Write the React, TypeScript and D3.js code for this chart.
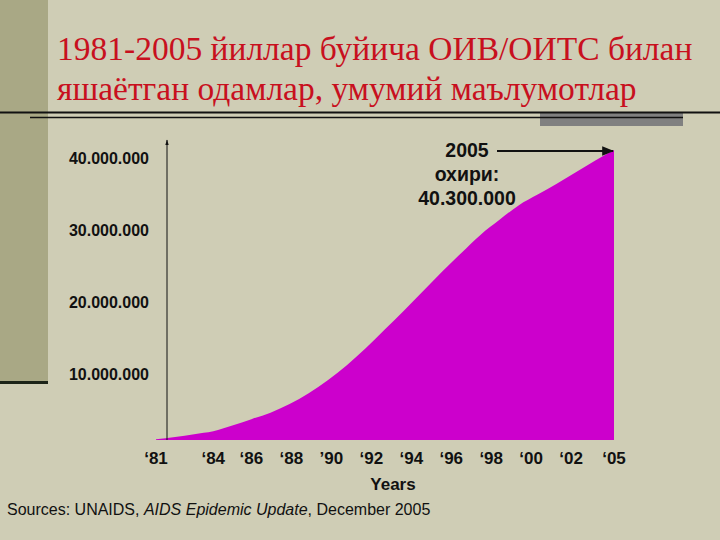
import React from 'react';
import * as d3 from 'd3';

// people living with HIV, millions
const years = [1981, 1982, 1983, 1984, 1985, 1986, 1987, 1988, 1989, 1990, 1991, 1992, 1993,
  1994, 1995, 1996, 1997, 1998, 1999, 2000, 2001, 2002, 2003, 2004, 2005];
const livingWithHiv = [0.1, 0.4, 0.8, 1.2, 2.0, 2.9, 3.8, 5.0, 6.5, 8.3, 10.4, 12.8, 15.4,
  18.0, 20.7, 23.4, 26.0, 28.5, 30.6, 32.6, 34.1, 35.6, 37.2, 38.8, 40.3];

const yTicks = [10, 20, 30, 40];
const yTickLabels = ['10.000.000', '20.000.000', '30.000.000', '40.000.000'];
const xTicks = [1981, 1984, 1986, 1988, 1990, 1992, 1994, 1996, 1998, 2000, 2002, 2005];
const xTickLabels = ['‘81', '‘84', '‘86', '‘88', '’90', '‘92', '‘94', '‘96', '‘98', '‘00', '‘02', '‘05'];

const titleLines = ['1981-2005 йиллар буйича ОИВ/ОИТС билан', 'яшаётган одамлар, умумий маълумотлар'];

export default function App() {
  const W = 720, H = 540;
  const x = d3.scaleLinear().domain([1981, 2005]).range([156, 614]);
  const y = d3.scaleLinear().domain([0, 40.3]).range([440, 150]);

  const data = years.map((yr, i) => ({yr, v: livingWithHiv[i]}));
  const area = d3.area<{yr: number, v: number}>()
    .x(d => x(d.yr))
    .y0(y(0))
    .y1(d => y(d.v))
    .curve(d3.curveMonotoneX);

  const bold = {fontFamily: 'Liberation Sans, Arial, sans-serif', fontWeight: 'bold' as const};
  const last = data[data.length - 1];

  return (
    <div style={{position: 'fixed', left: 0, top: 0}}>
      <svg width={W} height={H} viewBox={`0 0 ${W} ${H}`} style={{display: 'block'}}>
        <defs>
          <marker id="arr" viewBox="0 0 10 10" refX="9" refY="5" markerWidth="6" markerHeight="6" orient="auto">
            <path d="M0,1 L10,5 L0,9 z" fill="#111"/>
          </marker>
          <marker id="arrSmall" viewBox="0 0 10 10" refX="9" refY="5" markerWidth="6" markerHeight="6" orient="auto">
            <path d="M0,2 L10,5 L0,8 z" fill="#111"/>
          </marker>
        </defs>
        <rect width={W} height={H} fill="#cfcdb5"/>
        {/* left strip */}
        <rect x={0} y={0} width={48} height={382} fill="#a9a885"/>
        <rect x={0} y={381} width={48} height={3} fill="#1c2418"/>

        {/* title */}
        {titleLines.map((t, i) => (
          <text key={i} x={57} y={60 + i * 40} fill="#c8101e"
                style={{fontFamily: 'Liberation Serif, Times New Roman, serif', fontSize: 33.5}}>{t}</text>
        ))}
        <rect x={540} y={112} width={143} height={14} fill="#808080"/>
        <line x1={0} x2={W} y1={112.5} y2={112.5} stroke="#111" strokeWidth={2}/>
        <line x1={30} x2={683} y1={117.5} y2={117.5} stroke="#111" strokeWidth={1.5}/>

        {/* area */}
        <path d={area(data) || ''} fill="#cc00cc"/>

        {/* y axis */}
        <line x1={167} x2={167} y1={y(0)} y2={140} stroke="#111" strokeWidth={1} markerEnd="url(#arrSmall)"/>
        {yTicks.map((t, i) => (
          <text key={t} x={149} y={y(t) + 8} textAnchor="end" dominantBaseline="middle"
                style={{...bold, fontSize: 16}} fill="#111">{yTickLabels[i]}</text>
        ))}

        {/* x labels */}
        {xTicks.map((t, i) => (
          <text key={t} x={x(t) + (t === 1981 || t === 1984 || t === 1986 || t === 2005 ? 0 : (t - 1986) * 0.9)} y={460}
                textAnchor="middle" dominantBaseline="middle" style={{...bold, fontSize: 17}} fill="#111">{xTickLabels[i]}</text>
        ))}
        <text x={393} y={486} textAnchor="middle" dominantBaseline="middle" style={{...bold, fontSize: 17}} fill="#111">Years</text>

        {/* annotation */}
        <line x1={497} x2={x(last.yr) - 1} y1={y(last.v) + 1} y2={y(last.v) + 1} stroke="#111" strokeWidth={2} markerEnd="url(#arr)"/>
        <text x={467} y={152} textAnchor="middle" dominantBaseline="middle" style={{...bold, fontSize: 19.5}} fill="#111">2005</text>
        <text x={467} y={176} textAnchor="middle" dominantBaseline="middle" style={{...bold, fontSize: 19.5}} fill="#111">охири:</text>
        <text x={467} y={200} textAnchor="middle" dominantBaseline="middle" style={{...bold, fontSize: 19.5}} fill="#111">40.300.000</text>

        {/* source */}
        <text x={7} y={511} dominantBaseline="middle" fill="#111"
              style={{fontFamily: 'Liberation Sans, Arial, sans-serif', fontSize: 16}}>
          Sources: UNAIDS, <tspan fontStyle="italic">AIDS Epidemic Update</tspan>, December 2005
        </text>
      </svg>
    </div>
  );
}
